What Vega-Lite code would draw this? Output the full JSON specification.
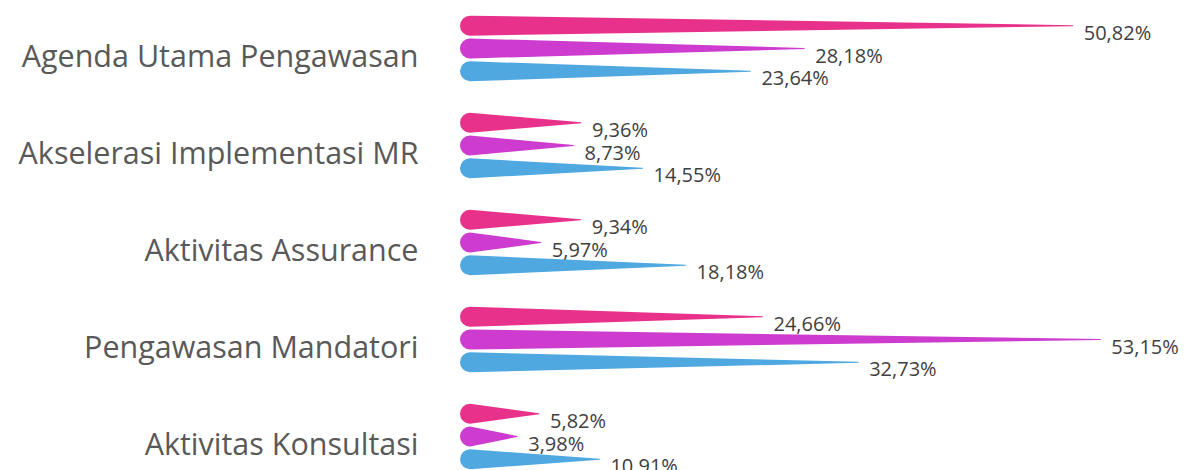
{
  "$schema": "https://vega.github.io/schema/vega-lite/v6.json",
  "width": 723,
  "height": 485,
  "autosize": {"type": "none"},
  "padding": {"left": 470, "top": 0, "right": 0, "bottom": 0},
  "background": "white",
  "config": {
    "view": {"stroke": null},
    "locale": {"number": {"decimal": ",", "thousands": ".", "grouping": [3], "currency": ["", " €"]}}
  },
  "data": {
    "values": [
      {"kategori": "Agenda Utama Pengawasan", "seri": "Seri 1", "nilai": 0.5082},
      {"kategori": "Agenda Utama Pengawasan", "seri": "Seri 2", "nilai": 0.2818},
      {"kategori": "Agenda Utama Pengawasan", "seri": "Seri 3", "nilai": 0.2364},
      {"kategori": "Akselerasi Implementasi MR", "seri": "Seri 1", "nilai": 0.0936},
      {"kategori": "Akselerasi Implementasi MR", "seri": "Seri 2", "nilai": 0.0873},
      {"kategori": "Akselerasi Implementasi MR", "seri": "Seri 3", "nilai": 0.1455},
      {"kategori": "Aktivitas Assurance", "seri": "Seri 1", "nilai": 0.0934},
      {"kategori": "Aktivitas Assurance", "seri": "Seri 2", "nilai": 0.0597},
      {"kategori": "Aktivitas Assurance", "seri": "Seri 3", "nilai": 0.1818},
      {"kategori": "Pengawasan Mandatori", "seri": "Seri 1", "nilai": 0.2466},
      {"kategori": "Pengawasan Mandatori", "seri": "Seri 2", "nilai": 0.5315},
      {"kategori": "Pengawasan Mandatori", "seri": "Seri 3", "nilai": 0.3273},
      {"kategori": "Aktivitas Konsultasi", "seri": "Seri 1", "nilai": 0.0582},
      {"kategori": "Aktivitas Konsultasi", "seri": "Seri 2", "nilai": 0.0398},
      {"kategori": "Aktivitas Konsultasi", "seri": "Seri 3", "nilai": 0.1091}
    ]
  },
  "encoding": {
    "y": {
      "field": "kategori",
      "type": "nominal",
      "sort": ["Agenda Utama Pengawasan", "Akselerasi Implementasi MR", "Aktivitas Assurance", "Pengawasan Mandatori", "Aktivitas Konsultasi"],
      "scale": {"paddingInner": 0.06, "paddingOuter": 0.03},
      "axis": {
        "title": null,
        "ticks": false,
        "domain": false,
        "grid": false,
        "labelPadding": 52,
        "labelFontSize": 30.5,
        "labelFont": "Open Sans",
        "labelColor": "#595959",
        "labelOffset": 9,
        "labelLimit": 0
      }
    },
    "yOffset": {
      "field": "seri",
      "type": "nominal",
      "sort": ["Seri 1", "Seri 2", "Seri 3"],
      "scale": {"paddingInner": 0, "paddingOuter": 1}
    },
    "color": {
      "field": "seri",
      "type": "nominal",
      "scale": {"domain": ["Seri 1", "Seri 2", "Seri 3"], "range": ["#E8318B", "#CD3BCF", "#4FA9E0"]},
      "legend": null
    }
  },
  "layer": [
    {
      "transform": [
        {"calculate": "0", "as": "awal"},
        {"fold": ["awal", "nilai"], "as": ["ujung", "posisi"]}
      ],
      "mark": {"type": "trail"},
      "encoding": {
        "x": {"field": "posisi", "type": "quantitative", "scale": {"domain": [0, 0.6096]}, "axis": null},
        "size": {"field": "ujung", "type": "ordinal", "scale": {"domain": ["awal", "nilai"], "range": [20, 0]}, "legend": null},
        "detail": {"field": "kategori", "type": "nominal"}
      }
    },
    {
      "mark": {"type": "text", "align": "left", "baseline": "middle", "dx": 11, "dy": 8, "fontSize": 20, "font": "Open Sans"},
      "encoding": {
        "x": {"field": "nilai", "type": "quantitative", "scale": {"domain": [0, 0.6096]}, "axis": null},
        "text": {"field": "nilai", "type": "quantitative", "format": ".2%"},
        "color": {"value": "#404040"}
      }
    }
  ]
}
